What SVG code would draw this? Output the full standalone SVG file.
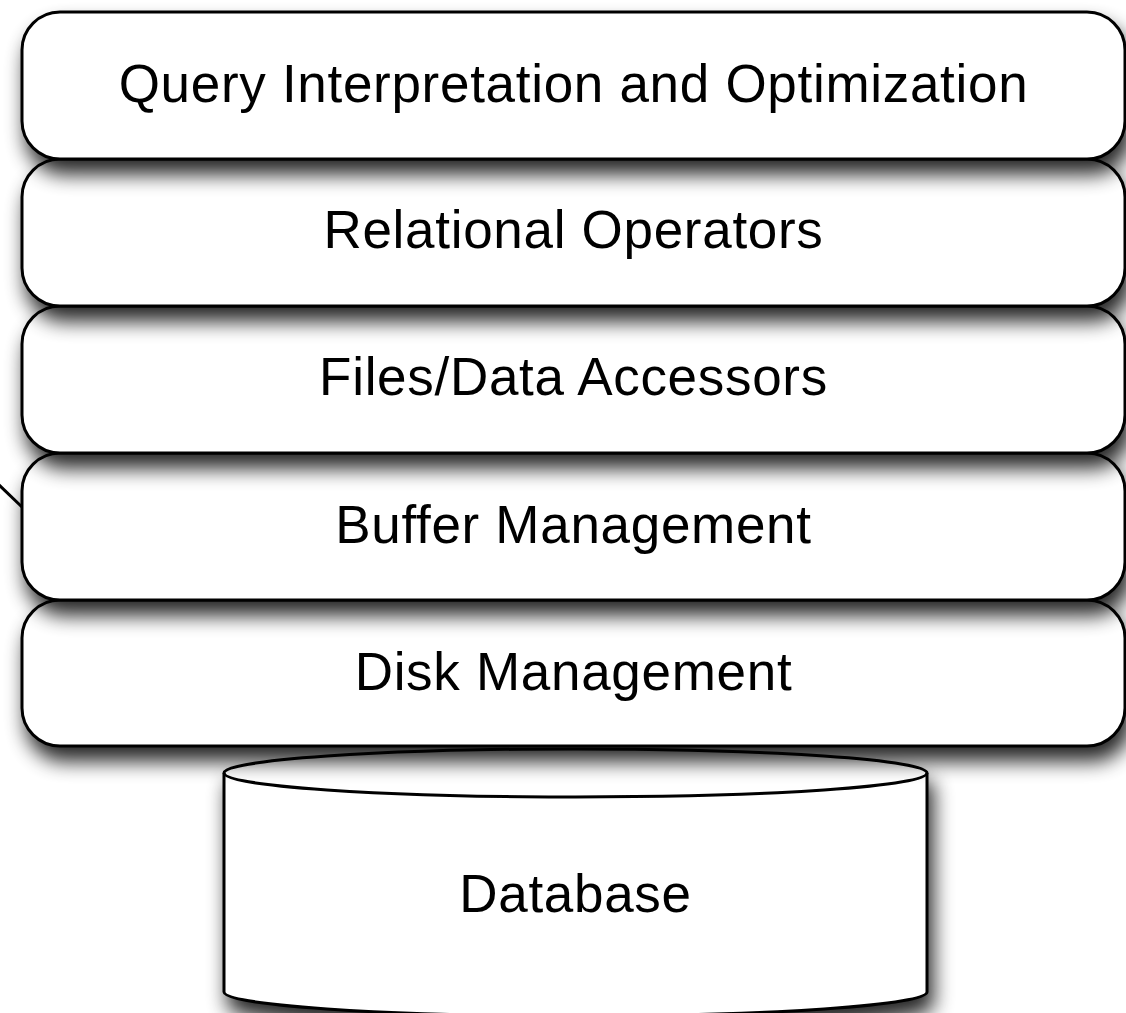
<svg xmlns="http://www.w3.org/2000/svg" width="1126" height="1013" viewBox="0 0 1126 1013">
<defs>
<filter id="sh" x="-10%" y="-30%" width="125%" height="180%">
<feGaussianBlur in="SourceAlpha" stdDeviation="10"/>
<feOffset dx="5" dy="14" result="b"/>
<feComponentTransfer><feFuncA type="linear" slope="0.85"/></feComponentTransfer>
<feMerge><feMergeNode/><feMergeNode in="SourceGraphic"/></feMerge>
</filter>
<style>
.box{fill:#fff;stroke:#000;stroke-width:3}
.lbl{font-family:"Liberation Sans",Arial,sans-serif;font-size:53px;letter-spacing:0.7px;fill:#000;text-anchor:middle}
</style>
</defs>
<rect width="1126" height="1013" fill="#fff"/>
<g id="connectors">
<line x1="-2" y1="484" x2="22" y2="507" stroke="#000" stroke-width="3"/>
</g>
<g id="database" filter="url(#sh)">
<path class="box" d="M224,773 A351,24 0 0 1 927,773 L927,992 A351,24 0 0 1 224,992 Z"/>
<path d="M224,773 A351,24 0 0 0 927,773" fill="none" stroke="#000" stroke-width="3"/>
<text class="lbl" x="575.5" y="912">Database</text>
</g>
<g id="disk" filter="url(#sh)">
<rect class="box" x="22" y="600" width="1103" height="146" rx="38" ry="38"/>
<text class="lbl" x="573.5" y="690">Disk Management</text>
</g>
<g id="buffer" filter="url(#sh)">
<rect class="box" x="22" y="453" width="1103" height="147" rx="38" ry="38"/>
<text class="lbl" x="573.5" y="543">Buffer Management</text>
</g>
<g id="files" filter="url(#sh)">
<rect class="box" x="22" y="306" width="1103" height="147" rx="38" ry="38"/>
<text class="lbl" x="573.5" y="395">Files/Data Accessors</text>
</g>
<g id="relational" filter="url(#sh)">
<rect class="box" x="22" y="159" width="1103" height="147" rx="38" ry="38"/>
<text class="lbl" x="573.5" y="248">Relational Operators</text>
</g>
<g id="query" filter="url(#sh)">
<rect class="box" x="22" y="12" width="1103" height="147" rx="38" ry="38"/>
<text class="lbl" x="573.5" y="102">Query Interpretation and Optimization</text>
</g>
</svg>
